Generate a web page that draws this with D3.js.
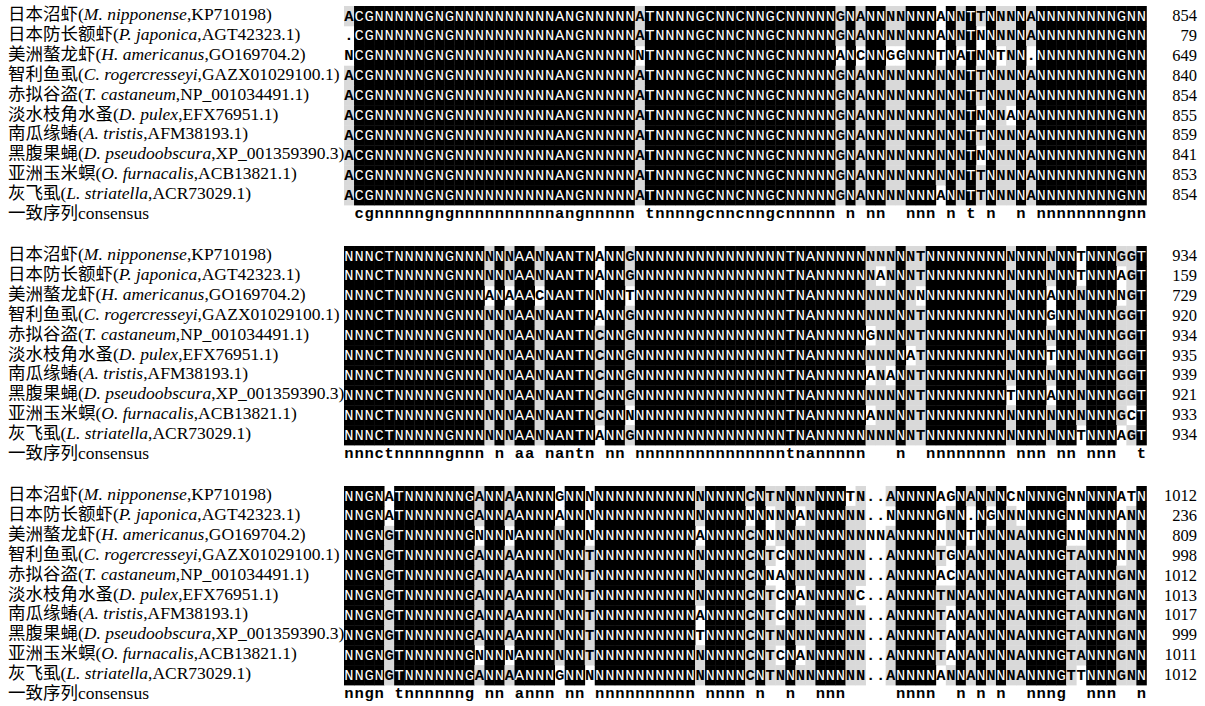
<!DOCTYPE html>
<html lang="zh">
<head>
<meta charset="UTF-8">
<title>Alignment</title>
<style>
  body, html { margin: 0; padding: 0; background: #fff; overflow: hidden; }
  .lab { font-family: "Liberation Serif", "Noto Sans CJK SC", serif; font-size: 17.5px; fill: #000; }
  .num { font-family: "Liberation Serif", serif; font-size: 16.5px; fill: #000; }
  .res { font-family: "Liberation Mono", monospace; font-size: 15.5px; }
  .cons { font-family: "Liberation Mono", monospace; font-size: 15.5px; font-weight: bold; fill: #000; }
</style>
<script src="https://d3js.org/d3.v7.min.js"></script>
</head>
<body>
<div id="chart"></div>
<script>
// species labels
const namesCn = ["日本沼虾", "日本防长额虾", "美洲螯龙虾", "智利鱼虱", "赤拟谷盗",
  "淡水枝角水蚤", "南瓜缘蝽", "黑腹果蝇", "亚洲玉米螟", "灰飞虱"];
const namesLatin = ["M. nipponense", "P. japonica", "H. americanus", "C. rogercresseyi", "T. castaneum",
  "D. pulex", "A. tristis", "D. pseudoobscura", "O. furnacalis", "L. striatella"];
const accessions = ["KP710198", "AGT42323.1", "GO169704.2", "GAZX01029100.1", "NP_001034491.1",
  "EFX76951.1", "AFM38193.1", "XP_001359390.3", "ACB13821.1", "ACR73029.1"];
const consensusLabel = "一致序列consensus";

// aligned residues, 80 columns per block ("|" only groups columns for reading)
const block1 = [
  "A|CGNNNNNGNGNNNNNNNNNNANGNNNNN|A|TNNNNGCNNCNNGCNNNNN|GNANNNNNNN|ANNTTNNNNA|NNNNNNNNGNN",
  ".|CGNNNNNGNGNNNNNNNNNNANGNNNNN|A|TNNNNGCNNCNNGCNNNNN|GNANNNNNNN|ANNTNNNNNA|NNNNNNNNGNN",
  "N|CGNNNNNGNGNNNNNNNNNNANGNNNNN|N|TNNNNGCNNCNNGCNNNNN|ANCNNGGNNN|TNATNNTNN.|NNNNNNNNGNN",
  "A|CGNNNNNGNGNNNNNNNNNNANGNNNNN|A|TNNNNGCNNCNNGCNNNNN|GNANNNNNNN|NNNTTNNNNA|NNNNNNNNGNN",
  "A|CGNNNNNGNGNNNNNNNNNNANGNNNNN|A|TNNNNGCNNCNNGCNNNNN|GNANNNNNNN|NNNTTNNNNA|NNNNNNNNGNN",
  "A|CGNNNNNGNGNNNNNNNNNNANGNNNNN|A|TNNNNGCNNCNNGCNNNNN|GNANNNNNNN|NNNTNNNANA|NNNNNNNNGNN",
  "A|CGNNNNNGNGNNNNNNNNNNANGNNNNN|A|TNNNNGCNNCNNGCNNNNN|GNANNNNNNN|NNNTTNNNNA|NNNNNNNNGNN",
  "A|CGNNNNNGNGNNNNNNNNNNANGNNNNN|A|TNNNNGCNNCNNGCNNNNN|GNANNNNNNN|NNNTNNNNNA|NNNNNNNNGNN",
  "A|CGNNNNNGNGNNNNNNNNNNANGNNNNN|A|TNNNNGCNNCNNGCNNNNN|GNANNNNNNN|NNNTTNNNNA|NNNNNNNNGNN",
  "A|CGNNNNNGNGNNNNNNNNNNANGNNNNN|A|TNNNNGCNNCNNGCNNNNN|GNANNNNNNN|ANNTTNNNNA|NNNNNNNNGNN"
];
const block2 = [
  "NNNCTNNNNNGNNN|NNNAAN|NANTNANNG|NNNNNNNNNNNNNNNTNANNNNN|NNNNNT|NNNNNNNN|NNNNNNNTNNNGGT",
  "NNNCTNNNNNGNNN|NNNAAN|NANTNANNG|NNNNNNNNNNNNNNNTNANNNNN|NANNNT|NNNNNNNN|NNNNNNNTNNNAGT",
  "NNNCTNNNNNGNNN|ANAAAC|NANTNNNNT|NNNNNNNNNNNNNNNTNANNNNN|NNNNNN|NNNNNNNN|NNNNANNNNNNNGT",
  "NNNCTNNNNNGNNN|NNNAAN|NANTNANNG|NNNNNNNNNNNNNNNTNANNNNN|NNNNNT|NNNNNNNN|NNNNGNNNNNNGGT",
  "NNNCTNNNNNGNNN|NNNAAN|NANTNCNNG|NNNNNNNNNNNNNNNTNANNNNN|GNNNNT|NNNNNNNN|NNNNNNNNNNNGGT",
  "NNNCTNNNNNGNNN|NNNAAN|NANTNCNNG|NNNNNNNNNNNNNNNTNANNNNN|NNNNAT|NNNNNNNN|NNNNTNNNNNNGGT",
  "NNNCTNNNNNGNNN|NNNAAN|NANTNCNNG|NNNNNNNNNNNNNNNTNANNNNN|ANANNT|NNNNNNNN|NNNNNNNNNNNGGT",
  "NNNCTNNNNNGNNN|NNNAAN|NANTNCNNG|NNNNNNNNNNNNNNNTNANNNNN|NNNNNT|NNNNNNNN|TNNNANNNNNNGGT",
  "NNNCTNNNNNGNNN|NNNAAN|NANTNCNNN|NNNNNNNNNNNNNNNTNANNNNN|ANNNNT|NNNNNNNN|NNNNNNNNNNNGCT",
  "NNNCTNNNNNGNNN|NNNAAN|NANTNANNG|NNNNNNNNNNNNNNNTNANNNNN|NNNNNT|NNNNNNNN|NNNNNNNTNNNAGT"
];
const block3 = [
  "NNGN|A|TNNNNNNG|ANNAANNNGNNN|NNNNNNNNNNNNNNN|CNTNNNNNNNTN..A|NNNNAGNANNNCN|NNNGNNNNNATN",
  "NNGN|A|TNNNNNNG|ANNAANNNANNN|NNNNNNNNNNNNNNN|NNNNNANNNNNN..N|NNNNGNN.NGNNN|NNNGNNNNNANN",
  "NNGN|G|TNNNNNNG|NNNNANNNNNNN|NNNNNNNNNNANNNN|CNNNNNNNNNNNNNA|NNNNNNNTNNNNA|NNNGNNNNNNNN",
  "NNGN|G|TNNNNNNG|ANNAANNNNNNT|NNNNNNNNNNNNNNN|CNTCNNNNNNNN..A|NNNNTGNANNNNA|NNNGTANNNNNN",
  "NNGN|G|TNNNNNNG|ANNAANNNNNNT|NNNNNNNNNNNNNNN|CNNANNNNNNNN..A|NNNNACNANNNNA|NNNGTANNNGNN",
  "NNGN|G|TNNNNNNG|ANNAANNNNNNT|NNNNNNNNNNNNNNN|CNTCNANNNNNC..A|NNNNTNNANNNNA|NNNGTANNNGNN",
  "NNGN|G|TNNNNNNG|ANNAANNNNNNT|NNNNNNNNNNANNNN|CNTCNNNNNNNN..A|NNNNTANANNNNA|NNNGTANNNGNN",
  "NNGN|G|TNNNNNNG|ANNAANNNNNNT|NNNNNNNNNNTNNNN|CNTNNNNNNNNN..A|NNNNTANANNNNA|NNNGTANNNGNN",
  "NNGN|G|TNNNNNNG|NNNNANNNNNNT|NNNNNNNNNNNNNNN|CNTCNANNNNNN..A|NNNNTANANNNNA|NNNGTANNNGNN",
  "NNGN|G|TNNNNNNG|ANNAANNNGNNN|NNNNNNNNNNNNNNN|CNTNNNNNNNNN..A|NNNNANNANNNNA|NNNGTTNNNGNN"
];

// column shading, run-length: k = identical (black), g = partly conserved (grey), w = none
const shade1 = "g k28 g k19 g k g k2 g2 k3 g k g k g k g2 k g k11";
const shade2 = "k14 g k g k2 g k5 g k2 g k23 g3 k g2 k8 g k3 g k2 g k3 g2 k";
const shade3 = "k4 g k8 g k2 g k4 g k2 g k10 g k4 g k g2 k g2 k3 g2 w2 g k4 g2 k g k g k g2 k4 g2 k3 g2 k";

// residue numbers at the end of each line
const ends1 = [854, 79, 649, 840, 854, 855, 859, 841, 853, 854];
const ends2 = [934, 159, 729, 920, 934, 935, 939, 921, 933, 934];
const ends3 = [1012, 236, 809, 998, 1012, 1013, 1017, 999, 1011, 1012];

const width = 1205, height = 706;
const nCol = 80, rowH = 19.9;

const svg = d3.select("#chart").append("svg")
  .attr("width", width).attr("height", height);

const x = d3.scaleLinear().domain([0, nCol]).range([344, 1146.4]);
const yRow = d3.scaleLinear().domain([0, 10]).range([0, 10 * rowH]);
const blockTop = d3.scaleLinear().domain([0, 1]).range([6, 246]);

const parseShade = s => s.split(" ").flatMap(t => {
  const n = t.length > 1 ? +t.slice(1) : 1;
  return Array(n).fill(t[0]);
});

const blocks = [
  { seqs: block1, shade: shade1, ends: ends1 },
  { seqs: block2, shade: shade2, ends: ends2 },
  { seqs: block3, shade: shade3, ends: ends3 }
];

blocks.forEach((b, bi) => {
  const top = blockTop(bi);
  const seqs = b.seqs.map(s => s.replace(/\|/g, ""));
  const cls = parseShade(b.shade);
  const g = svg.append("g").attr("transform", `translate(0,${top})`);

  // majority letter of each column
  const major = d3.range(nCol).map(c => {
    const counts = d3.rollups(seqs, v => v.length, s => s[c]);
    return d3.greatest(counts, d => d[1])[0];
  });

  const cells = [];
  seqs.forEach((s, r) => {
    for (let c = 0; c < nCol; c++) {
      const ch = s[c] || " ";
      let kind = cls[c];
      if (kind === "g") kind = ch === major[c] && ch !== "." ? "g" : "w";
      cells.push({ r, c, ch, kind });
    }
  });

  g.selectAll("rect.cell")
    .data(cells.filter(d => d.kind !== "w"))
    .join("rect")
    .attr("class", "cell")
    .attr("x", d => x(d.c))
    .attr("y", d => yRow(d.r))
    .attr("width", x(1) - x(0) + 0.4)
    .attr("height", rowH + 0.4)
    .attr("fill", d => d.kind === "k" ? "#000" : "#d9d9d9");

  g.selectAll("text.res")
    .data(cells)
    .join("text")
    .attr("class", "res")
    .attr("x", d => x(d.c + 0.5))
    .attr("y", d => yRow(d.r) + 14.5)
    .attr("text-anchor", "middle")
    .attr("fill", d => d.kind === "k" ? "#fff" : "#000")
    .attr("font-weight", d => d.kind === "k" ? "normal" : "bold")
    .text(d => d.ch);

  // consensus: lowercase where every sequence agrees
  const cons = d3.range(nCol).map(c => cls[c] === "k" ? seqs[0][c].toLowerCase() : " ");
  g.selectAll("text.cons")
    .data(cons.map((ch, c) => ({ ch, c })).filter(d => d.ch !== " "))
    .join("text")
    .attr("class", "cons")
    .attr("x", d => x(d.c + 0.5))
    .attr("y", yRow(10) + 13)
    .attr("text-anchor", "middle")
    .text(d => d.ch);

  // labels
  namesCn.forEach((cn, r) => {
    const t = g.append("text").attr("class", "lab")
      .attr("x", 8).attr("y", yRow(r) + 14);
    t.append("tspan").text(cn + "(");
    t.append("tspan").attr("font-style", "italic").text(namesLatin[r]);
    t.append("tspan").text("," + accessions[r] + ")");
  });
  g.append("text").attr("class", "lab")
    .attr("x", 8).attr("y", yRow(10) + 14)
    .text(consensusLabel);

  g.selectAll("text.num")
    .data(b.ends)
    .join("text")
    .attr("class", "num")
    .attr("x", 1197)
    .attr("y", (d, r) => yRow(r) + 15)
    .attr("text-anchor", "end")
    .text(d => d);
});
</script>
</body>
</html>
